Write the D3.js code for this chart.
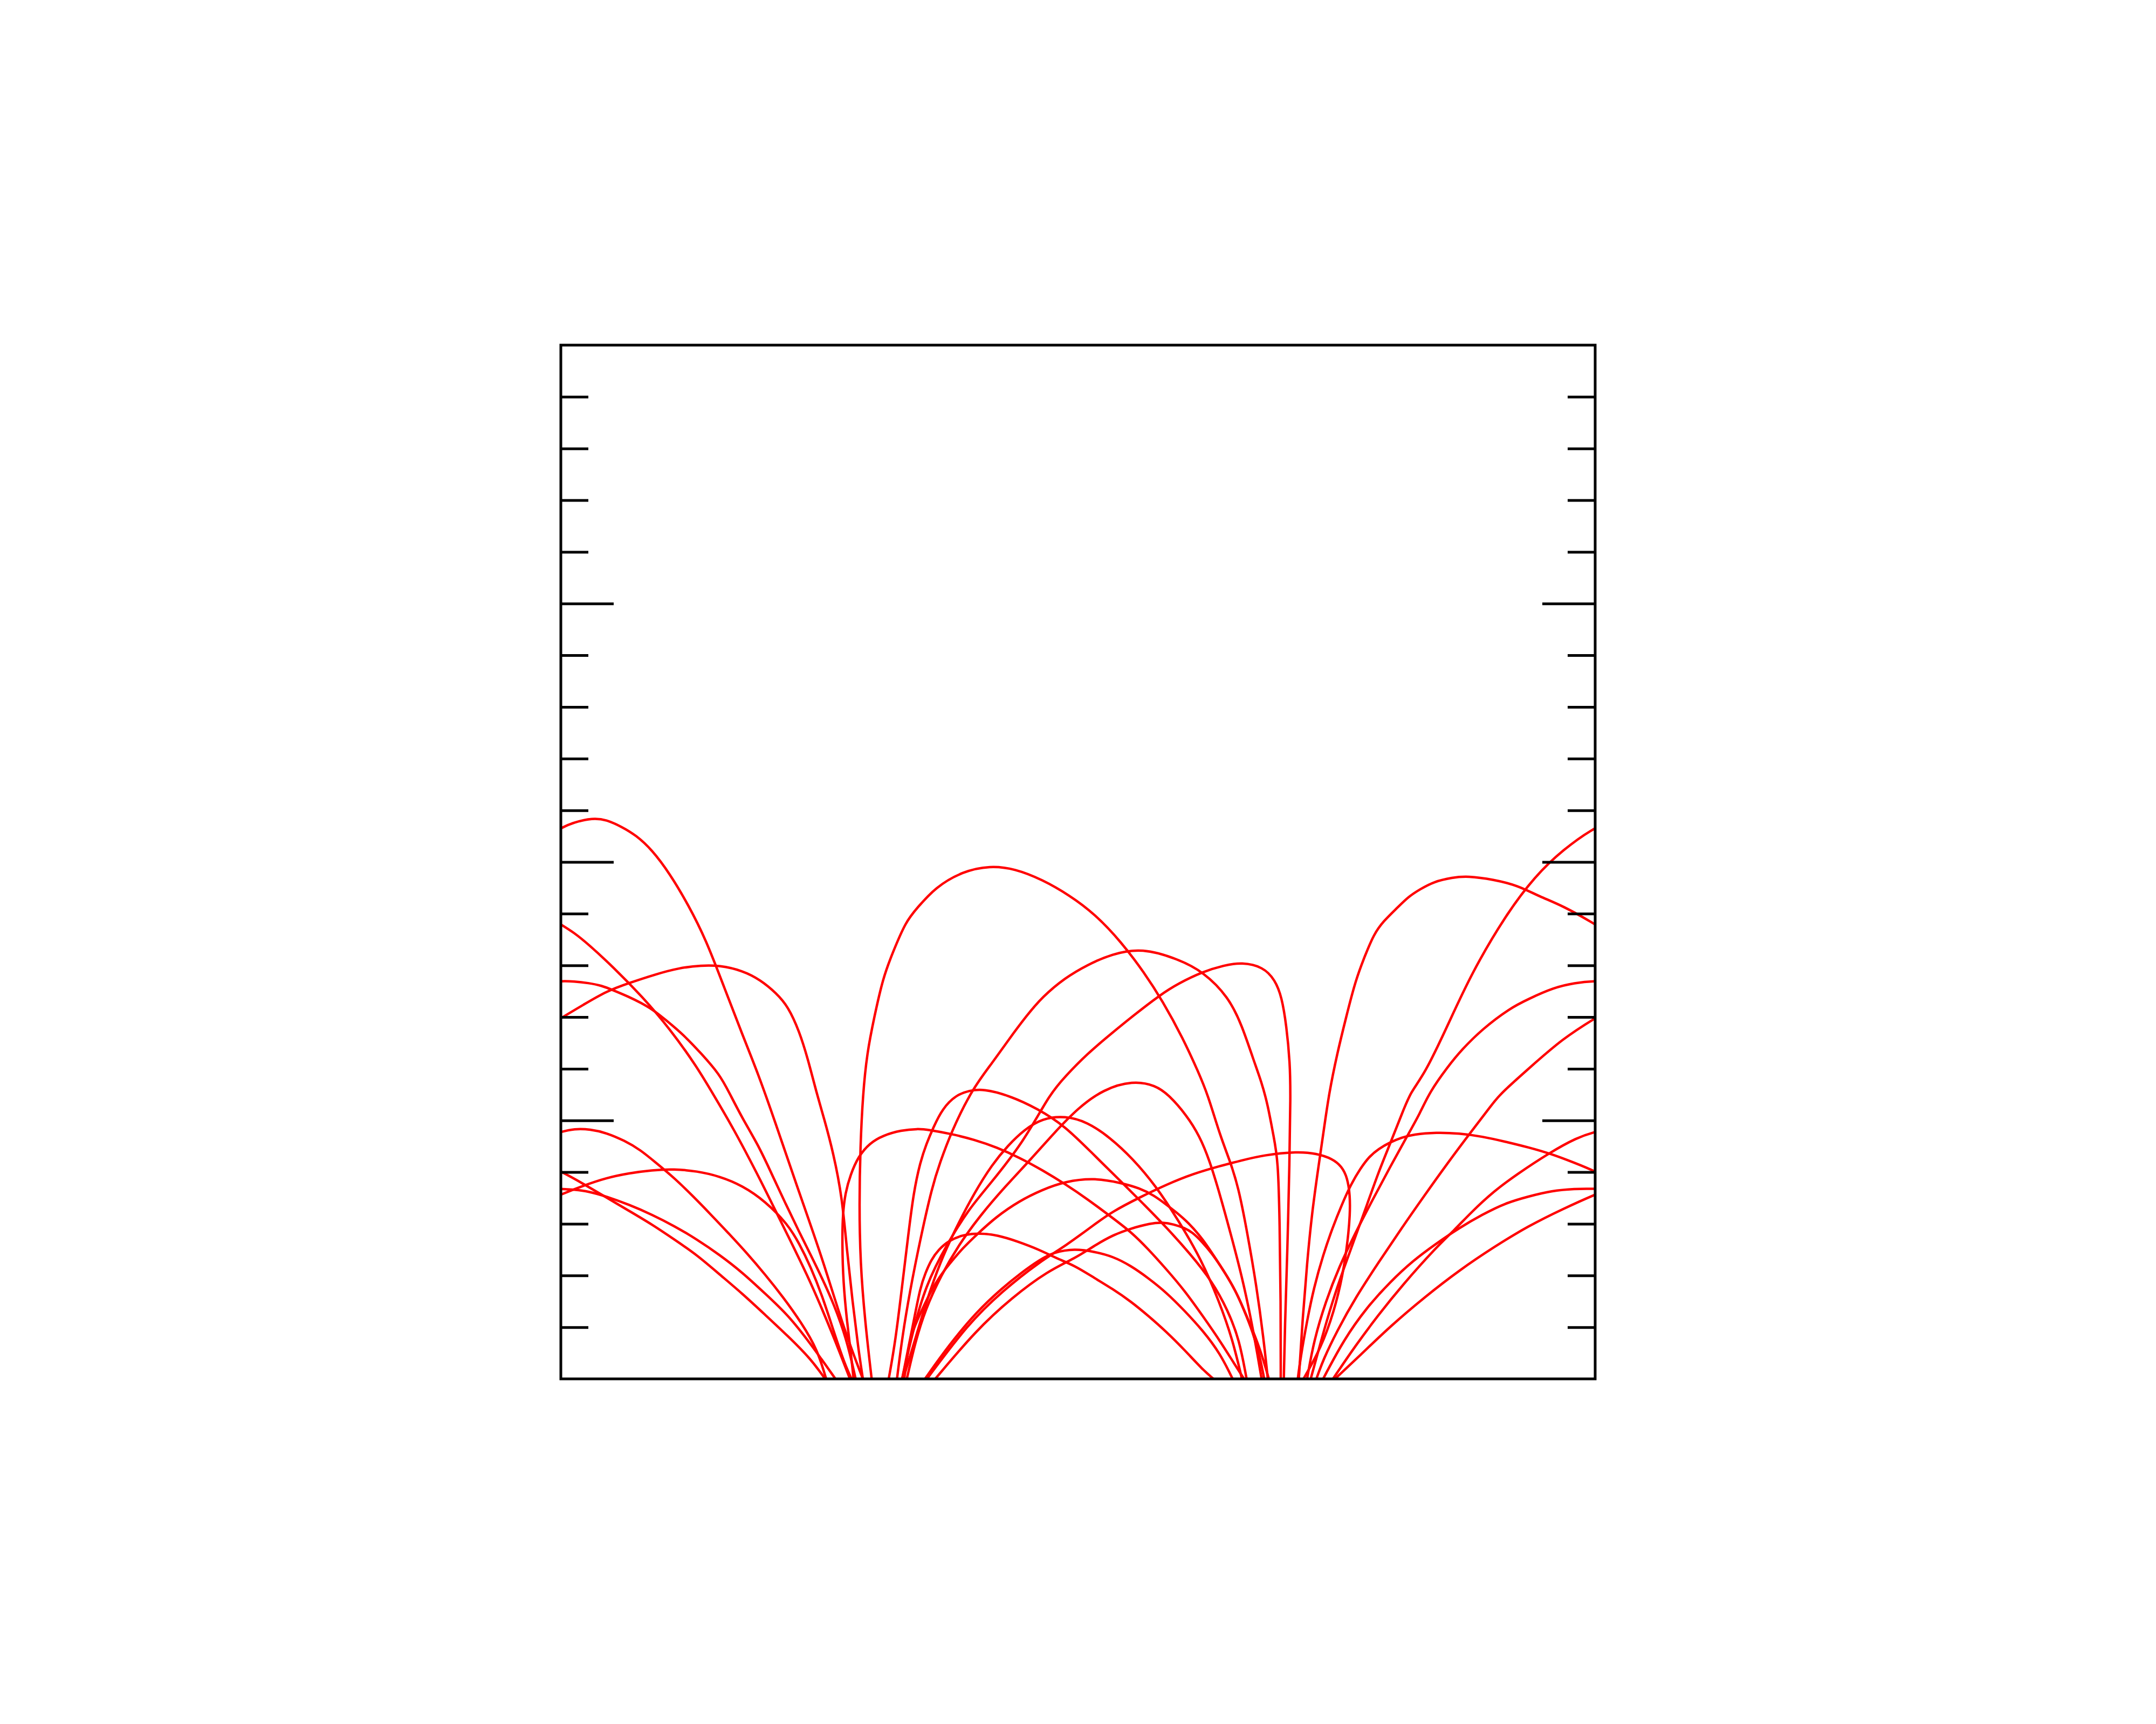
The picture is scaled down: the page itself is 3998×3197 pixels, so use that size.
<!DOCTYPE html>
<html>
<head>
<meta charset="utf-8">
<script src="https://cdn.jsdelivr.net/npm/d3@7"></script>
<style>
  html, body { margin: 0; padding: 0; background: #fff; }
  svg { display: block; }
</style>
</head>
<body>
<div id="chart"></div>
<script>
// axis ticks (no labels in the original)
const minorTicks = [1, 2, 3, 4, 6, 7, 8, 9, 11, 12, 13, 14, 16, 17, 18, 19];
const majorTicks = [5, 10, 15];

// field lines, [x, y] in axis units; x > 20 means the line wrapped past the right edge
const tallLoop = [[6.01,0],[5.88,1.13],[5.79,2.25],[5.77,3.37],[5.79,4.48],[5.84,5.5],[5.92,6.3],[6.06,7.0],[6.23,7.76],[6.41,8.23],[6.67,8.85],[6.89,9.11],[7.24,9.51],[7.77,9.82],[8.30,9.93],[8.78,9.87],[9.31,9.66],[9.83,9.36],[10.32,9.0],[10.84,8.45],[11.28,7.86],[11.63,7.32],[12.03,6.59],[12.33,5.93],[12.51,5.5],[12.75,4.7],[12.93,4.24],[13.10,3.72],[13.27,2.85],[13.45,1.81],[13.59,0.77],[13.67,0]];
const arc690 = [[6.50,0],[6.60,0.8],[6.75,1.7],[6.95,2.7],[7.18,3.72],[7.33,4.18],[7.55,4.78],[7.95,5.6],[8.34,6.11],[8.65,6.55],[9.00,7.02],[9.31,7.39],[9.75,7.76],[10.18,8.01],[10.65,8.22],[11.24,8.34],[11.94,8.12],[12.42,7.88],[12.91,7.39],[13.17,6.84],[13.39,6.18],[13.55,5.74],[13.67,5.3],[13.78,4.7],[13.87,4.24],[13.90,3.0],[13.92,1.5],[13.92,0]];
const arc700 = [[6.60,0],[6.80,0.9],[7.05,1.8],[7.46,2.6],[7.90,3.3],[8.26,3.72],[8.96,4.6],[9.44,5.49],[9.75,5.85],[10.18,6.29],[10.62,6.66],[11.06,7.02],[11.59,7.43],[11.94,7.65],[12.42,7.88],[12.82,8.0],[13.17,8.06],[13.58,7.97],[13.81,7.72],[13.94,7.39],[14.03,6.84],[14.10,6.11],[14.11,5.49],[14.09,4.2],[14.05,2.5],[14.0,1.0],[13.98,0]];
const arc787 = [[6.69,0],[6.85,0.7],[7.05,1.35],[7.35,2.0],[7.70,2.6],[8.10,3.15],[8.59,3.72],[9.09,4.25],[9.53,4.75],[10.01,5.25],[10.49,5.6],[11.06,5.77],[11.50,5.68],[11.76,5.49],[12.1,5.1],[12.35,4.7],[12.54,4.24],[12.75,3.55],[12.96,2.78],[13.17,1.98],[13.34,1.19],[13.48,0.42],[13.55,0]];
const arc792 = [[6.34,0],[6.47,0.73],[6.60,1.8],[6.72,2.8],[6.82,3.6],[6.95,4.2],[7.07,4.55],[7.20,4.86],[7.38,5.23],[7.64,5.49],[7.9,5.58],[8.17,5.61],[8.65,5.49],[9.22,5.23],[9.75,4.89],[10.27,4.37],[10.84,3.81],[11.28,3.37],[11.72,2.92],[12.16,2.43],[12.60,1.88],[12.90,1.32],[13.12,0.76],[13.26,0]];
const arc812 = [[6.62,0],[6.85,0.76],[7.07,1.50],[7.33,2.25],[7.64,2.92],[7.99,3.59],[8.34,4.15],[8.65,4.52],[8.96,4.82],[9.31,5.04],[9.75,5.09],[10.18,4.97],[10.62,4.67],[11.06,4.26],[11.50,3.74],[11.94,3.07],[12.38,2.32],[12.73,1.50],[12.99,0.76],[13.17,0]];
const arc822 = [[5.66,0],[5.62,0.4],[5.53,1.13],[5.46,1.88],[5.44,2.62],[5.45,3.18],[5.50,3.6],[5.60,3.95],[5.75,4.3],[5.97,4.56],[6.23,4.71],[6.58,4.81],[6.9,4.84],[7.11,4.82],[7.55,4.74],[7.99,4.63],[8.43,4.48],[8.87,4.28],[9.31,4.04],[9.75,3.77],[10.18,3.48],[10.62,3.15],[11.02,2.85],[11.36,2.51],[11.71,2.12],[12.06,1.71],[12.41,1.22],[12.75,0.73],[13.03,0.28],[13.21,0]];
const arc857 = [[6.64,0],[6.74,0.77],[6.88,1.11],[7.09,1.57],[7.30,1.95],[7.51,2.22],[7.78,2.54],[8.03,2.78],[8.41,3.13],[8.86,3.44],[9.31,3.66],[9.75,3.82],[10.32,3.89],[10.84,3.79],[11.19,3.69],[11.47,3.55],[11.71,3.37],[11.88,3.24],[12.13,3.03],[12.41,2.71],[12.68,2.30],[12.89,1.98],[13.10,1.60],[13.27,1.19],[13.45,0.77],[13.59,0.35],[13.69,0]];
const arc889 = [[7.24,0],[8.03,0.94],[8.72,1.57],[9.42,2.09],[9.94,2.33],[10.32,2.58],[10.67,2.78],[11.02,2.91],[11.40,3.01],[11.64,3.03],[11.85,2.99],[12.06,2.92],[12.22,2.83],[12.41,2.64],[12.58,2.44],[12.82,2.09],[13.03,1.74],[13.20,1.36],[13.38,0.91],[13.52,0.42],[13.60,0]];
const arc897 = [[6.60,0],[6.70,0.5],[6.82,1.1],[6.95,1.77],[7.05,2.05],[7.16,2.30],[7.30,2.50],[7.51,2.68],[7.78,2.79],[8.10,2.82],[8.45,2.78],[8.83,2.66],[9.25,2.50],[9.59,2.33],[9.94,2.19],[10.32,1.95],[10.67,1.74],[11.02,1.50],[11.36,1.22],[11.71,0.91],[12.06,0.56],[12.41,0.18],[12.62,0]];
const arc909 = [[7.04,0],[7.51,0.66],[8.03,1.29],[8.55,1.77],[8.90,2.05],[9.25,2.30],[9.53,2.45],[9.94,2.52],[10.32,2.46],[10.67,2.37],[11.02,2.19],[11.36,1.95],[11.71,1.67],[12.06,1.32],[12.41,0.94],[12.75,0.49],[12.99,0]];
const arc838 = [[7.08,0],[7.86,1.05],[8.55,1.71],[9.25,2.26],[9.77,2.58],[10.32,2.99],[10.67,3.24],[11.19,3.51],[11.71,3.76],[12.23,3.97],[12.75,4.12],[13.14,4.22],[13.58,4.33],[14.25,4.40],[14.61,4.36],[14.92,4.26],[15.10,4.11],[15.21,3.89],[15.26,3.55],[15.26,3.18],[15.22,2.7],[15.12,2.0],[14.95,1.3],[14.7,0.6],[14.36,0]];
const wrapA = [[14.50,0],[14.70,0.74],[14.92,1.5],[15.14,2.14],[15.37,2.77],[15.59,3.37],[15.81,4.0],[16.04,4.56],[16.26,5.12],[16.43,5.55],[16.70,5.89],[17.15,6.84],[17.60,7.83],[18.26,8.96],[18.84,9.73],[19.38,10.24],[19.96,10.65],[20.26,10.77],[20.61,10.85],[20.88,10.82],[21.18,10.68],[21.45,10.52],[21.76,10.24],[22.11,9.77],[22.46,9.18],[22.81,8.49],[23.16,7.57],[23.51,6.66],[23.82,5.89],[24.12,5.04],[24.56,3.74],[25.05,2.36],[25.48,0.94],[25.84,0]];
const wrapB = [[14.27,0],[14.34,1.12],[14.43,2.25],[14.52,3.18],[14.65,4.11],[14.76,4.86],[14.85,5.5],[15.01,6.29],[15.19,7.02],[15.37,7.72],[15.55,8.19],[15.72,8.60],[15.90,8.85],[16.17,9.11],[16.39,9.33],[16.61,9.47],[16.88,9.62],[17.24,9.70],[17.53,9.73],[18.04,9.66],[18.49,9.55],[18.93,9.33],[19.38,9.15],[19.96,8.82],[20.26,8.63],[20.53,8.41],[21.01,7.97],[21.58,7.39],[22.11,6.77],[22.63,6.04],[22.92,5.55],[23.33,4.86],[23.86,3.85],[24.39,2.77],[24.83,1.88],[25.27,0.83],[25.59,0]];
const wrapC = [[14.43,0],[14.56,0.74],[14.79,1.5],[15.05,2.17],[15.37,2.84],[15.72,3.51],[16.04,4.11],[16.35,4.67],[16.62,5.15],[16.80,5.55],[17.15,6.04],[17.42,6.37],[17.82,6.77],[18.35,7.17],[18.71,7.35],[19.20,7.57],[19.60,7.66],[20.0,7.70],[20.26,7.69],[20.53,7.66],[20.79,7.61],[21.01,7.52],[21.32,7.39],[21.54,7.28],[21.80,7.13],[22.02,6.95],[22.37,6.66],[22.72,6.29],[23.07,5.89],[23.25,5.55],[23.51,5.04],[23.82,4.52],[24.08,3.96],[24.34,3.40],[24.61,2.84],[24.83,2.40],[25.05,1.95],[25.27,1.47],[25.53,0.76],[25.70,0]];
const wrapD = [[14.61,0],[14.74,0.37],[15.01,0.93],[15.37,1.58],[15.81,2.25],[16.26,2.92],[16.70,3.55],[17.15,4.18],[17.60,4.78],[18.0,5.3],[18.15,5.5],[18.71,6.0],[19.38,6.59],[20.0,6.98],[20.44,7.24],[20.88,7.50],[21.32,7.66],[21.84,7.83],[22.28,7.95],[22.72,8.0],[23.07,8.0],[23.51,7.90],[23.86,7.72],[24.17,7.46],[24.39,7.21],[24.61,6.73],[24.78,6.18],[24.94,5.55],[25.09,5.04],[25.27,4.37],[25.44,3.51],[25.53,2.5],[25.64,1.5],[25.75,0.6],[25.84,0]];
const wrapE1 = [[14.93,0],[15.37,0.65],[15.81,1.24],[16.26,1.80],[16.93,2.55],[17.28,2.88],[17.60,3.22],[18.04,3.63],[18.49,3.96],[19.11,4.37],[19.65,4.67],[20.0,4.78],[20.26,4.84],[20.57,4.83],[20.88,4.76],[21.23,4.61],[21.54,4.43],[21.84,4.18],[22.19,3.89],[22.54,3.55],[22.90,3.18],[23.25,2.81],[23.60,2.43],[23.95,2.02],[24.30,1.58],[24.65,1.09],[24.96,0.57],[25.13,0]];
const wrapE2 = [[14.25,0],[14.30,0.39],[14.43,1.13],[14.56,1.76],[14.74,2.40],[14.92,2.92],[15.10,3.37],[15.28,3.77],[15.46,4.07],[15.63,4.30],[15.81,4.45],[16.04,4.58],[16.26,4.67],[16.48,4.73],[16.93,4.77],[17.37,4.75],[17.82,4.69],[18.26,4.59],[18.71,4.48],[19.16,4.35],[19.60,4.18],[20.0,4.02],[20.44,3.77],[20.88,3.51],[21.32,3.25],[21.76,2.99],[22.19,2.70],[22.63,2.40],[23.07,2.02],[23.51,1.65],[23.95,1.24],[24.39,0.83],[24.83,0.39],[25.11,0]];
const wrapE3 = [[14.74,0],[15.14,0.76],[15.59,1.39],[16.04,1.88],[16.48,2.29],[16.93,2.62],[17.37,2.92],[17.82,3.18],[18.26,3.40],[18.71,3.53],[19.16,3.64],[19.60,3.68],[20.0,3.68],[20.26,3.66],[20.53,3.63],[20.88,3.53],[21.32,3.37],[21.76,3.18],[22.19,2.96],[22.63,2.70],[23.07,2.40],[23.51,2.06],[23.95,1.65],[24.39,1.24],[24.83,0.68],[25.31,0]];
const wrapE4 = [[14.97,0],[15.46,0.46],[16.04,1.02],[16.70,1.58],[17.37,2.10],[18.04,2.55],[18.71,2.96],[19.38,3.29],[20.0,3.57],[20.44,3.74],[20.88,3.89],[21.32,3.98],[21.76,4.04],[22.19,4.06],[22.63,4.02],[23.07,3.92],[23.51,3.74],[23.95,3.44],[24.39,2.99],[24.61,2.62],[24.83,2.17],[25.05,1.62],[25.27,0.94],[25.48,0.31],[25.62,0]];

const fieldLines = [tallLoop, arc690, arc700, arc787, arc792, arc812, arc822, arc857, arc889, arc897, arc909, arc838,
  wrapA, wrapB, wrapC, wrapD, wrapE1, wrapE2, wrapE3, wrapE4];
const period = 20;

const config = {
  width: 3998,
  height: 3197,
  margin: { top: 640, right: 1040, bottom: 640, left: 1040 },
  minorLen: 51,
  majorLen: 98,
};
const plotW = config.width - config.margin.left - config.margin.right;
const plotH = config.height - config.margin.top - config.margin.bottom;

const svg = d3.select("#chart").append("svg")
  .attr("width", config.width)
  .attr("height", config.height);

const g = svg.append("g")
  .attr("transform", `translate(${config.margin.left},${config.margin.top})`);

const x = d3.scaleLinear().domain([0, 20]).range([0, plotW]);
const y = d3.scaleLinear().domain([0, 20]).range([plotH, 0]);

g.append("clipPath").attr("id", "plot-clip")
  .append("rect").attr("width", plotW).attr("height", plotH);

// B-spline smooths out the reading noise in the traced points
const line = d3.line()
  .x((d) => x(d[0]))
  .y((d) => y(d[1]))
  .curve(d3.curveBasis);

// each wrapped line is drawn once more, shifted back by one period
const copies = [];
fieldLines.forEach((pts) => {
  copies.push(pts);
  if (d3.max(pts, (d) => d[0]) > period) {
    copies.push(pts.map((d) => [d[0] - period, d[1]]));
  }
});

g.append("g")
  .attr("clip-path", "url(#plot-clip)")
  .selectAll("path")
  .data(copies)
  .join("path")
  .attr("d", line)
  .attr("fill", "none")
  .attr("stroke", "#ff0000")
  .attr("stroke-width", 4.5)
  .attr("stroke-linejoin", "round");

// inward ticks, left and right
function addTicks(values, len) {
  const left = g.append("g")
    .call(d3.axisLeft(y).tickValues(values).tickSize(-len).tickFormat(""));
  const right = g.append("g")
    .attr("transform", `translate(${plotW},0)`)
    .call(d3.axisRight(y).tickValues(values).tickSize(-len).tickFormat(""));
  [left, right].forEach((a) => {
    a.select(".domain").remove();
    a.selectAll("line").attr("stroke", "#000").attr("stroke-width", 5);
  });
}
addTicks(minorTicks, config.minorLen);
addTicks(majorTicks, config.majorLen);

g.append("rect")
  .attr("width", plotW)
  .attr("height", plotH)
  .attr("fill", "none")
  .attr("stroke", "#000")
  .attr("stroke-width", 5);
</script>
</body>
</html>
